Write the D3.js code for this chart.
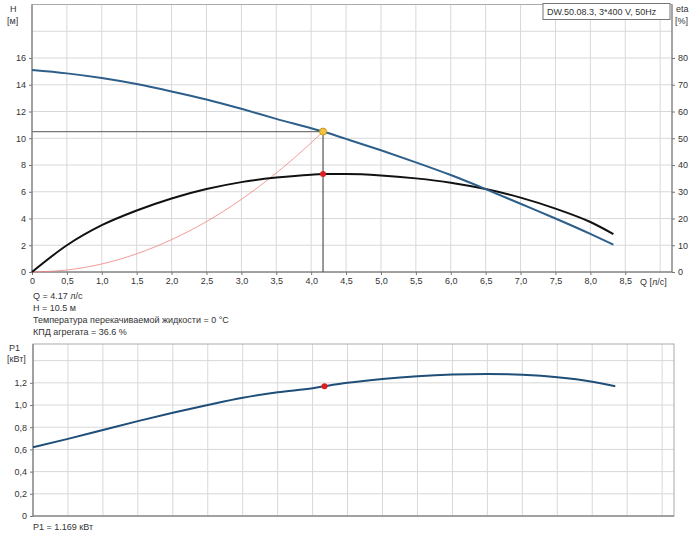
<!DOCTYPE html><html><head><meta charset="utf-8"><script src="https://cdn.jsdelivr.net/npm/d3@7"></script>
<style>body{margin:0;background:#fff}text{font-family:Arial,"Liberation Sans",sans-serif;font-size:9px;fill:#333}</style></head><body>
<svg id="c" width="700" height="539"></svg>
<script>
const qH=[0,0.5,1,1.5,2,2.5,3,3.5,4,4.17,4.5,5,5.5,6,6.5,7,7.5,8,8.33];
const hVals=[15.1,14.85,14.5,14.05,13.5,12.9,12.2,11.45,10.75,10.5,9.95,9.1,8.2,7.25,6.2,5.1,4.0,2.85,2.05];
const etaVals=[0,10,17.5,23,27.5,31,33.6,35.3,36.4,36.6,36.6,36.1,35.0,33.4,31.0,27.8,23.7,18.7,14.2];
const p1Vals=[0.62,0.695,0.775,0.855,0.93,1.0,1.065,1.115,1.152,1.169,1.2,1.235,1.26,1.275,1.28,1.272,1.25,1.21,1.17];
const qSys=[0,0.5,1,1.5,2,2.5,3,3.5,4,4.17];
const hSys=[0,0.15,0.6,1.36,2.42,3.77,5.43,7.4,9.66,10.5];
const xTicks=[0,0.5,1,1.5,2,2.5,3,3.5,4,4.5,5,5.5,6,6.5,7,7.5,8,8.5];
const hTicks=[0,2,4,6,8,10,12,14,16];
const etaTicks=[0,10,20,30,40,50,60,70,80];
const pTicks=[0,0.2,0.4,0.6,0.8,1.0,1.2];
const opQ=4.17,opH=10.5,opEta=36.6,opP=1.169;
const fmt=d=>d===0?"0":d3.format(".1f")(d).replace(".",",");
const svg=d3.select("#c");
const x=d3.scaleLinear().domain([0,9.17]).range([32,672]);
const yH=d3.scaleLinear().domain([0,20]).range([272,4.5]);
const yE=d3.scaleLinear().domain([0,100]).range([272,4.5]);
const x2=d3.scaleLinear().domain([0,9.17]).range([33,674]);
const yP=d3.scaleLinear().domain([0,1.55]).range([516,344]);
const grid="#d8d8d8";
d3.range(0,9.01,0.5).forEach(v=>svg.append("line").attr("x1",x(v)).attr("x2",x(v)).attr("y1",4.5).attr("y2",272).attr("stroke",grid));
d3.range(0,20.01,2).forEach(v=>svg.append("line").attr("x1",32).attr("x2",672).attr("y1",yH(v)).attr("y2",yH(v)).attr("stroke",grid));
svg.append("rect").attr("x",32).attr("y",4.5).attr("width",640).attr("height",267.5).attr("fill","none").attr("stroke","#aaa");
svg.append("line").attr("x1",32).attr("x2",32).attr("y1",4.5).attr("y2",272).attr("stroke","#777");
svg.append("line").attr("x1",672).attr("x2",672).attr("y1",4.5).attr("y2",272).attr("stroke","#777");
svg.append("line").attr("x1",32).attr("x2",672).attr("y1",272).attr("y2",272).attr("stroke","#777");
const ax=(g)=>{g.select(".domain").remove();g.selectAll("line").attr("stroke","#777");return g;};
ax(svg.append("g").attr("transform","translate(32,0)").call(d3.axisLeft(yH).tickValues(hTicks).tickSize(3).tickFormat(d=>d)));
ax(svg.append("g").attr("transform","translate(672,0)").call(d3.axisRight(yE).tickValues(etaTicks).tickSize(3).tickFormat(d=>d)));
ax(svg.append("g").attr("transform","translate(0,272)").call(d3.axisBottom(x).tickValues(xTicks).tickSize(3).tickFormat(fmt)));
svg.selectAll("g text").style("font-size","9px").attr("fill","#333");
svg.append("text").attr("x",10).attr("y",12).text("H");
svg.append("text").attr("x",7).attr("y",24).text("[м]");
svg.append("text").attr("x",676).attr("y",12).text("eta");
svg.append("text").attr("x",675).attr("y",24).text("[%]");
svg.append("text").attr("x",640).attr("y",285).text("Q [л/с]");
svg.append("rect").attr("x",543).attr("y",3.5).attr("width",127).attr("height",16).attr("fill","#fff").attr("stroke","#777");
svg.append("text").attr("x",547).attr("y",15).text("DW.50.08.3, 3*400 V, 50Hz");
svg.append("line").attr("x1",32).attr("x2",x(opQ)).attr("y1",yH(opH)).attr("y2",yH(opH)).attr("stroke","#777").attr("stroke-width",1.2);
svg.append("line").attr("x1",x(opQ)).attr("x2",x(opQ)).attr("y1",yH(opH)).attr("y2",272).attr("stroke","#555").attr("stroke-width",1.2);
const line=(xs,ys,sx,sy)=>d3.line().curve(d3.curveMonotoneX).x((d,i)=>sx(xs[i])).y((d,i)=>sy(ys[i]))(ys);
svg.append("path").attr("d",line(qSys,hSys,x,yH)).attr("fill","none").attr("stroke","#f08080").attr("stroke-width",0.8);
svg.append("path").attr("d",line(qH,etaVals,x,yE)).attr("fill","none").attr("stroke","#111").attr("stroke-width",2);
svg.append("path").attr("d",line(qH,hVals,x,yH)).attr("fill","none").attr("stroke","#2d5f8a").attr("stroke-width",2);
svg.append("circle").attr("cx",x(opQ)).attr("cy",yH(opH)).attr("r",3.5).attr("fill","#f5c242").attr("stroke","#c89a20");
svg.append("circle").attr("cx",x(opQ)).attr("cy",yE(opEta)).attr("r",3).attr("fill","#e02020");
["Q = 4.17 л/с","H = 10.5 м","Температура перекачиваемой жидкости = 0 °C","КПД агрегата = 36.6 %"].forEach((t,i)=>svg.append("text").attr("x",33).attr("y",299+i*12).text(t));
d3.range(0,9.01,0.5).forEach(v=>svg.append("line").attr("x1",x2(v)).attr("x2",x2(v)).attr("y1",344).attr("y2",516).attr("stroke",grid));
d3.range(0,1.41,0.2).forEach(v=>svg.append("line").attr("x1",33).attr("x2",674).attr("y1",yP(v)).attr("y2",yP(v)).attr("stroke",grid));
svg.append("rect").attr("x",33).attr("y",344).attr("width",641).attr("height",172).attr("fill","none").attr("stroke","#aaa");
svg.append("line").attr("x1",33).attr("x2",33).attr("y1",344).attr("y2",516).attr("stroke","#777");
svg.append("line").attr("x1",33).attr("x2",674).attr("y1",516).attr("y2",516).attr("stroke","#777");
ax(svg.append("g").attr("transform","translate(33,0)").call(d3.axisLeft(yP).tickValues(pTicks).tickSize(3).tickFormat(fmt)));
svg.selectAll("g text").style("font-size","9px").attr("fill","#333");
svg.append("text").attr("x",9).attr("y",351).text("P1");
svg.append("text").attr("x",7).attr("y",362).text("[кВт]");
svg.append("path").attr("d",line(qH,p1Vals,x2,yP)).attr("fill","none").attr("stroke","#1f4e79").attr("stroke-width",2);
svg.append("circle").attr("cx",x2(opQ)).attr("cy",yP(opP)).attr("r",3).attr("fill","#e02020");
svg.append("text").attr("x",33).attr("y",530).text("P1 = 1.169 кВт");
</script></body></html>
